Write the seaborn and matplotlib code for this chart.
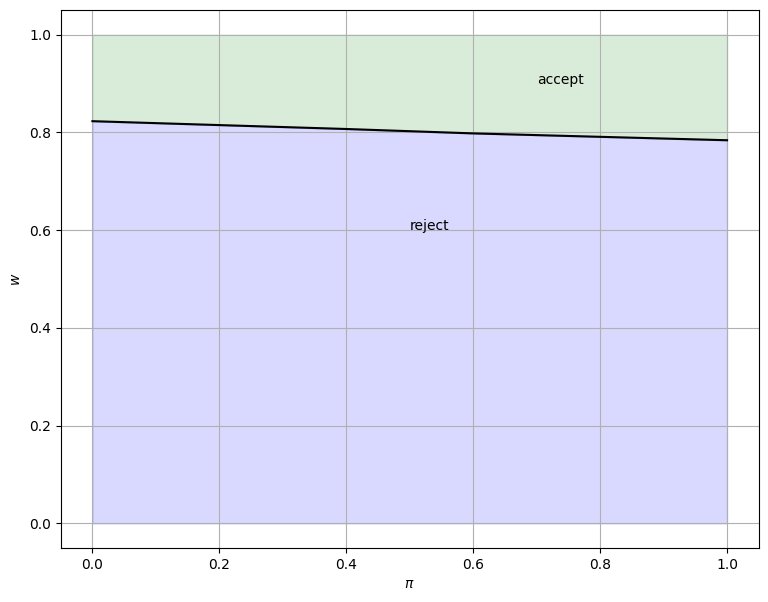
import matplotlib
matplotlib.use("Agg")
import matplotlib.pyplot as plt
import seaborn as sns
import pandas as pd
import numpy as np

# reservation wage curve
pi_vals = [0.0, 0.2, 0.4, 0.6, 0.8, 1.0]
w_bar = [0.823, 0.815, 0.807, 0.798, 0.791, 0.784]

df = pd.DataFrame({'pi': pi_vals, 'w': w_bar})

fig, ax = plt.subplots(figsize=(7.68, 6.02), dpi=100)
fig.subplots_adjust(left=0.079, right=0.988, top=0.983, bottom=0.09)

ax.fill_between(df['pi'], 0, df['w'], color='blue', alpha=0.15)
ax.fill_between(df['pi'], df['w'], 1, color='green', alpha=0.15)
sns.lineplot(data=df, x='pi', y='w', color='black', ax=ax)

ax.text(0.7, 0.9, 'accept')
ax.text(0.5, 0.6, 'reject')

ax.set_xlabel(r'$\pi$')
ax.set_ylabel(r'$w$')
ax.grid(True)

plt.savefig('out.png')
